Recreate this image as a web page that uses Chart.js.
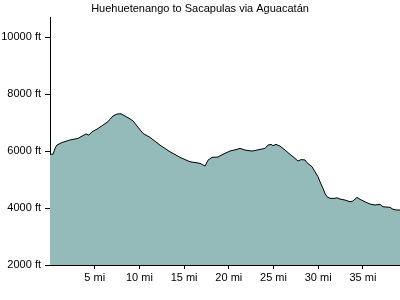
<!DOCTYPE html>
<html>
<head>
<meta charset="utf-8">
<script src="https://cdn.jsdelivr.net/npm/chart.js@4/dist/chart.umd.min.js"></script>
<style>
html,body{margin:0;padding:0;background:#fff;}
canvas{display:block;}
</style>
</head>
<body>
<canvas id="c" width="400" height="300"></canvas>
<script>
const titleText = "Huehuetenango to Sacapulas via Aguacatán";
const miles = [0.0,0.34,0.56,0.78,1.34,2.24,3.13,3.58,4.03,4.36,4.70,5.26,5.82,6.38,6.71,7.05,7.49,7.94,8.39,8.84,9.28,9.51,10.40,11.19,12.30,13.42,14.54,15.66,16.78,17.34,17.67,18.12,18.79,19.02,19.57,20.13,21.03,21.25,21.81,22.60,23.15,24.05,24.38,24.72,24.94,25.28,25.73,26.29,26.85,27.40,27.74,28.08,28.52,28.75,29.31,29.64,29.98,30.20,30.54,30.76,30.98,31.32,31.88,32.10,32.44,33.00,33.56,33.89,34.34,34.68,35.23,35.79,36.35,36.91,37.25,38.03,38.37,38.81,39.15];
const feet = [5890,5890,6095,6210,6300,6390,6445,6525,6600,6560,6680,6770,6890,7010,7110,7230,7300,7310,7230,7150,7060,6970,6620,6480,6210,5975,5780,5625,5570,5475,5680,5780,5790,5835,5920,6000,6070,6095,6035,6000,6035,6095,6210,6235,6190,6235,6175,6035,5885,5745,5650,5700,5690,5590,5450,5275,5100,4925,4690,4515,4400,4340,4340,4360,4315,4280,4220,4245,4375,4305,4220,4140,4105,4130,4045,4025,3955,3930,3930];
const xTicks = [5,10,15,20,25,30,35];
const yTicks = [2000,4000,6000,8000,10000];
const xMax = 39.15, yMin = 2000, yMax = 10700;

const points = miles.map((m,i)=>({x:m,y:feet[i]}));
const font = {family:"Arial, 'Liberation Sans', sans-serif", size:11};

new Chart(document.getElementById('c'), {
  type:'line',
  data:{datasets:[{
    data:points,
    borderColor:'#000',
    borderWidth:1,
    backgroundColor:'#95baba',
    fill:'start',
    pointRadius:0,
    tension:0
  }]},
  options:{
    responsive:false,
    devicePixelRatio:1,
    animation:false,
    events:[],
    layout:{padding:{left:0,right:0,top:0,bottom:0}},
    plugins:{
      legend:{display:false},
      tooltip:{enabled:false},
      title:{display:true,text:titleText,color:'#000',font:{...font,weight:'normal'},padding:{top:2,bottom:2}}
    },
    scales:{
      x:{
        type:'linear',min:0,max:xMax,
        afterBuildTicks:s=>{s.ticks=xTicks.map(v=>({value:v}));},
        afterFit:s=>{s.height=35;},
        grid:{display:true,drawOnChartArea:false,drawTicks:true,tickLength:4,color:'#000'},
        border:{display:true,color:'#000',width:1},
        ticks:{color:'#000',font:font,padding:2,maxRotation:0,callback:v=>v+' mi'}
      },
      y:{
        type:'linear',min:yMin,max:yMax,
        afterBuildTicks:s=>{s.ticks=yTicks.map(v=>({value:v}));},
        afterFit:s=>{s.width=50;},
        grid:{display:true,drawOnChartArea:false,drawTicks:true,tickLength:5,color:'#000'},
        border:{display:true,color:'#000',width:1},
        ticks:{color:'#000',font:font,padding:4,callback:v=>v+' ft'}
      }
    }
  }
});
</script>
</body>
</html>
